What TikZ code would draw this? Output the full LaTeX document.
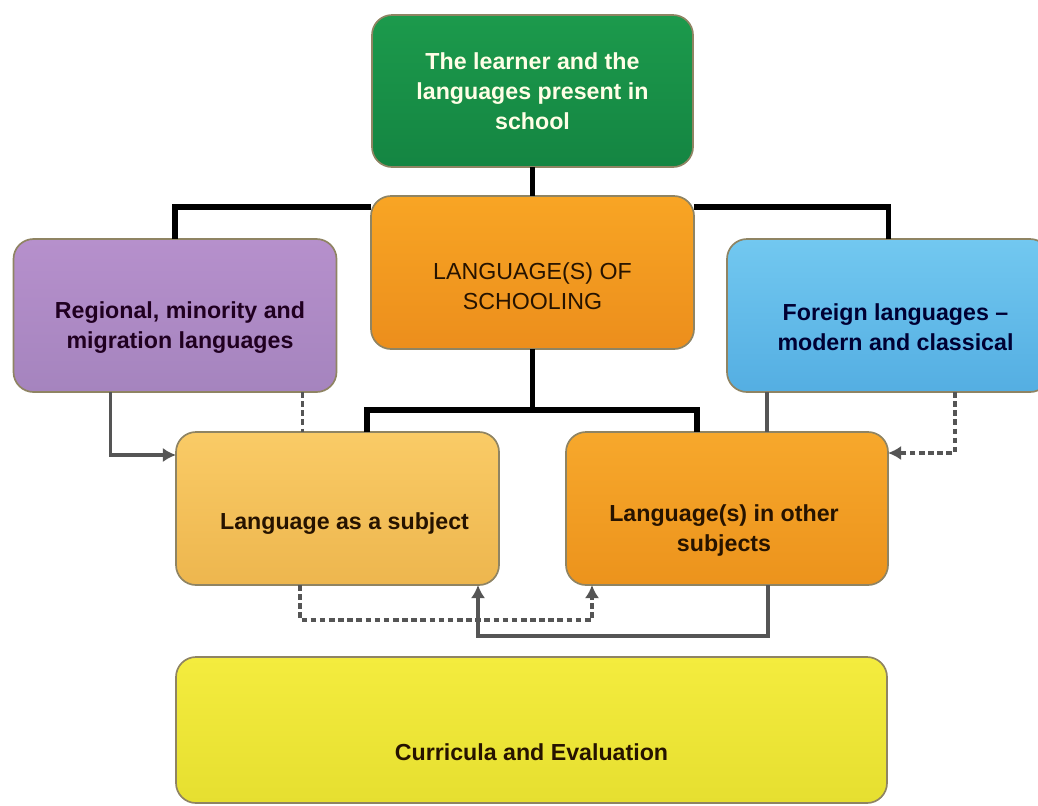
\documentclass[tikz,border=0pt]{standalone}
\usepackage{fontspec}
\setmainfont{Liberation Sans}
\usetikzlibrary{calc,arrows.meta}
\definecolor{grnA}{HTML}{1C9A4C}
\definecolor{grnB}{HTML}{148542}
\definecolor{orA}{HTML}{F8A524}
\definecolor{orB}{HTML}{EC8E1C}
\definecolor{puA}{HTML}{B690CC}
\definecolor{puB}{HTML}{A584BE}
\definecolor{blA}{HTML}{72C8F0}
\definecolor{blB}{HTML}{54AEE2}
\definecolor{loA}{HTML}{FACB66}
\definecolor{loB}{HTML}{EDB64E}
\definecolor{roA}{HTML}{F7A82C}
\definecolor{roB}{HTML}{EC931C}
\definecolor{yeA}{HTML}{F4EC3E}
\definecolor{yeB}{HTML}{E6DF30}
\definecolor{edge}{HTML}{8F8463}
\definecolor{conn}{HTML}{555555}
\tikzset{
  box/.style={draw=edge, line width=1.2pt, rounded corners=0.5cm, inner sep=0pt, outer sep=0pt,
    minimum width=323*0.025cm, minimum height=153*0.025cm},
  txt/.style={font=\fontsize{16.5}{21.3}\selectfont\bfseries, align=center, inner sep=0pt},
  thickline/.style={line width=3.6pt, black, line join=miter},
  gline/.style={line width=2.2pt, conn},
  dline/.style={line width=2.2pt, conn, dash pattern=on 4pt off 2.5pt},
  tip/.style={-{Latex[length=0.33cm,width=0.36cm]}}
}
\begin{document}
\begin{tikzpicture}[x=0.025cm,y=-0.025cm]
\useasboundingbox (0,0) rectangle (1038,805);
% boxes
\node[box, top color=grnA, bottom color=grnB, minimum width=321*0.025cm, minimum height=152*0.025cm] (green) at (532.5,91) {};
\node[box, top color=orA, bottom color=orB] (center) at (532.5,272.5) {};
\node[box, top color=puA, bottom color=puB] (purple) at (175,315.5) {};
\node[box, top color=blA, bottom color=blB] (blue) at (888.5,315.5) {};
\node[box, top color=loA, bottom color=loB] (las) at (337.5,508.5) {};
\node[box, top color=roA, bottom color=roB, minimum width=322*0.025cm] (lio) at (727,508.5) {};
\node[box, top color=yeA, bottom color=yeB, minimum width=711*0.025cm, minimum height=146*0.025cm] (yellow) at (531.5,730) {};
% texts
\node[txt, text=white!90!yellow] (greenT) at (green.center) {The learner and the\\languages present in\\school};
\node[txt, font=\fontsize{16.5}{21.3}\selectfont, text=black!85!orange] (centerT) at ($(center.center)+(0,14)$) {LANGUAGE(S) OF\\SCHOOLING};
\node[txt, text=black!75!violet] (purpleT) at ($(purple.center)+(5,12)$) {Regional, minority and\\migration languages};
\node[txt, text=black!80!blue] (blueT) at ($(blue.center)+(7,12)$) {Foreign languages --\\modern and classical};
\node[txt, text=black!85!orange] (lasT) at ($(las.center)+(7,15)$) {Language as a subject};
\node[txt, text=black!85!orange] (lioT) at ($(lio.center)+(-3,22)$) {Language(s) in other\\subjects};
\node[txt, text=black!85!orange] (yellowT) at ($(yellow.center)+(0,22)$) {Curricula and Evaluation};
% thick tree connectors
\draw[thickline] (green) -- (center);
\draw[thickline] (purple.north) |- ($(center.north west)+(0,11)$);
\draw[thickline] (blue.north) |- ($(center.north east)+(0,11)$);
\coordinate (j) at ($(center.south)+(0,61)$);
\coordinate (ja) at ($(las.north west)+(191,0)$);
\coordinate (jb) at ($(lio.north west)+(131,0)$);
\draw[thickline] (center.south) -- (j);
\draw[thickline] (ja) |- (j) -| (jb);
% purple connectors
\coordinate (pa) at ($(purple.south west)+(97,0)$);
\draw[gline, tip] (pa) |- ($(las.north west)+(0,23)$);
\coordinate (pd) at ($(purple.south west)+(289,0)$);
\draw[dline] (pd) -- (pd |- las.north);
% blue connectors
\coordinate (bs) at ($(blue.south west)+(40,0)$);
\draw[gline] (bs) -- (bs |- lio.north);
\coordinate (bd) at ($(blue.south west)+(228,0)$);
\draw[dline, tip] (bd) |- ($(lio.north east)+(0,21)$);
% bottom connectors
\coordinate (la) at ($(las.south west)+(124,0)$);
\coordinate (lb) at ($(lio.south west)+(26,0)$);
\draw[dline, tip] (la) -- ++(0,35) -| (lb);
\coordinate (lc) at ($(lio.south west)+(202,0)$);
\coordinate (ld) at ($(las.south west)+(302,0)$);
\draw[gline, tip] (lc) -- ++(0,51) -| (ld);
\end{tikzpicture}
\end{document}
